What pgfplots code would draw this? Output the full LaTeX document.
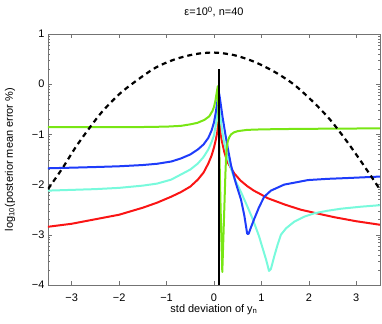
\documentclass[border=0pt]{standalone}
\usepackage{pgfplots}
\pgfplotsset{compat=1.18}
\usepackage{fontspec}
\setmainfont{Liberation Sans}

\definecolor{mgreen}{RGB}{120,230,20}
\definecolor{mblue}{RGB}{30,60,250}
\definecolor{mcyan}{RGB}{120,250,220}
\definecolor{mred}{RGB}{250,20,20}

\begin{document}
\begin{tikzpicture}
\useasboundingbox (-48bp,-39bp) rectangle (334bp,285bp);
\begin{axis}[
  scale only axis, width=332bp, height=251bp,
  at={(0,0)}, anchor=south west,
  xmin=-3.5, xmax=3.5, ymin=-4, ymax=1,
  xtick={-3,-2,-1,0,1,2,3}, xticklabels={−3,−2,−1,0,1,2,3},
  ytick={-4,-3,-2,-1,0,1}, yticklabels={−4,−3,−2,−1,0,1},
  minor ytick={-3.69897,-3.52288,-3.39794,-3.30103,-3.22185,-3.15490,-3.09691,-3.04576,
               -2.69897,-2.52288,-2.39794,-2.30103,-2.22185,-2.15490,-2.09691,-2.04576,
               -1.69897,-1.52288,-1.39794,-1.30103,-1.22185,-1.15490,-1.09691,-1.04576,
               -0.69897,-0.52288,-0.39794,-0.30103,-0.22185,-0.15490,-0.09691,-0.04576,
               0.30103,0.47712,0.60206,0.69897,0.77815,0.84510,0.90309,0.95424},
  tick align=inside, major tick length=4bp, minor tick length=2bp,
  axis line style={black!55, line width=0.6bp},
  every tick/.style={black!55, line width=0.5bp},
  tick label style={font=\fontsize{11}{13}\selectfont, black},
  xticklabel style={yshift=-5bp},
  label style={font=\fontsize{11}{13}\selectfont},
  title style={font=\fontsize{11}{13}\selectfont, at={(axis description cs:0.5,1.048)}, anchor=base},
  title={ε=10\textsuperscript{0}, n=40},
  xlabel={std deviation of y\textsubscript{n}},
  xlabel style={at={(axis description cs:0.5,-0.1076)}, anchor=base},
  ylabel={log\textsubscript{10}(posterior mean error \%)},
  ylabel style={at={(axis description cs:-0.1145,0.5)}, anchor=center, rotate=0},
  every axis plot/.append style={line join=round, line cap=round},
]
% red
\addplot[mred, line width=2bp] coordinates {
(-3.5,-2.84)(-3,-2.78)(-2.5,-2.69)(-2,-2.6)(-1.5,-2.46)(-1.2,-2.36)(-0.9,-2.24)(-0.7,-2.15)
(-0.5,-2.04)(-0.34,-1.9)(-0.22,-1.76)(-0.12,-1.58)(-0.05,-1.42)(0,-1.26)(0.04,-1.1)(0.07,-0.95)
(0.095,-0.75)(0.115,-0.75)(0.14,-1.0)(0.17,-1.15)(0.22,-1.36)(0.28,-1.54)(0.35,-1.66)(0.43,-1.78)(0.56,-1.92)
(0.7,-2.03)(0.84,-2.12)(0.98,-2.19)(1.13,-2.27)(1.5,-2.4)(1.83,-2.5)(2.2,-2.58)(2.54,-2.65)
(3.0,-2.73)(3.5,-2.80)};
% cyan
\addplot[mcyan, line width=2bp] coordinates {
(-3.5,-2.12)(-3,-2.105)(-2.5,-2.09)(-2,-2.065)(-1.5,-2.02)(-1.2,-1.98)(-0.9,-1.9)(-0.7,-1.8)
(-0.5,-1.7)(-0.34,-1.58)(-0.22,-1.45)(-0.12,-1.3)(-0.05,-1.15)(0,-1.02)(0.04,-0.8)(0.07,-0.6)
(0.1,-0.42)(0.13,-0.6)(0.16,-0.85)(0.2,-1.1)(0.26,-1.35)(0.33,-1.6)(0.43,-1.88)(0.57,-2.15)
(0.71,-2.45)(0.8,-2.65)(0.88,-2.85)(0.95,-3.03)(1.02,-3.25)(1.1,-3.5)(1.16,-3.72)(1.2,-3.68)
(1.27,-3.43)(1.34,-3.2)(1.41,-3.0)(1.52,-2.87)(1.69,-2.74)(1.9,-2.64)(2.12,-2.57)(2.4,-2.52)
(2.68,-2.48)(3.1,-2.44)(3.5,-2.41)};
% blue
\addplot[mblue, line width=2bp] coordinates {
(-3.5,-1.675)(-3,-1.663)(-2.5,-1.65)(-2,-1.635)(-1.5,-1.61)(-1.2,-1.585)(-0.9,-1.54)(-0.7,-1.48)
(-0.5,-1.4)(-0.34,-1.3)(-0.22,-1.2)(-0.12,-1.07)(-0.05,-0.92)(0,-0.76)(0.04,-0.55)(0.07,-0.35)
(0.095,-0.12)(0.12,-0.25)(0.15,-0.45)(0.18,-0.65)(0.24,-1.0)(0.29,-1.27)(0.36,-1.62)(0.46,-1.97)
(0.57,-2.3)(0.64,-2.62)(0.7,-2.98)(0.73,-2.98)(0.78,-2.85)(0.85,-2.68)(0.95,-2.45)(1.06,-2.24)
(1.2,-2.12)(1.48,-2.0)(1.76,-1.95)(1.98,-1.91)(2.4,-1.885)(2.8,-1.87)(3.5,-1.84)};
% green
\addplot[mgreen, line width=2bp] coordinates {
(-3.5,-0.855)(-2.5,-0.855)(-1.5,-0.853)(-1.0,-0.845)(-0.7,-0.83)(-0.5,-0.8)(-0.35,-0.77)
(-0.2,-0.71)(-0.1,-0.64)(-0.03,-0.53)(0.0,-0.45)(0.03,-0.33)(0.055,-0.18)(0.08,-0.04)
(0.11,-1.2)(0.14,-2.5)(0.175,-3.74)(0.2,-3.0)(0.22,-2.4)(0.24,-1.8)(0.255,-1.45)(0.27,-1.27)
(0.29,-1.14)(0.32,-1.06)(0.36,-1.0)(0.42,-0.96)(0.5,-0.935)(0.7,-0.91)(1.0,-0.9)(1.5,-0.893)
(2.5,-0.885)(3.5,-0.88)};
% dashed
\addplot[black, line width=2.2bp, dash pattern=on 5bp off 4bp, line cap=butt, smooth] coordinates {
(-3.5,-2.09)(-3.2,-1.68)(-2.92,-1.26)(-2.64,-0.89)(-2.36,-0.55)(-2.0,-0.2)(-1.65,0.06)
(-1.23,0.33)(-0.81,0.5)(-0.39,0.6)(0,0.63)(0.42,0.58)(0.84,0.45)(1.27,0.25)(1.69,-0.01)
(2.11,-0.37)(2.46,-0.72)(2.81,-1.15)(3.16,-1.62)(3.5,-2.1)};
% black
\addplot[black, line width=2.5bp, line cap=butt] coordinates {(0.105,-4)(0.105,0.3)};
\end{axis}
\end{tikzpicture}
\end{document}
